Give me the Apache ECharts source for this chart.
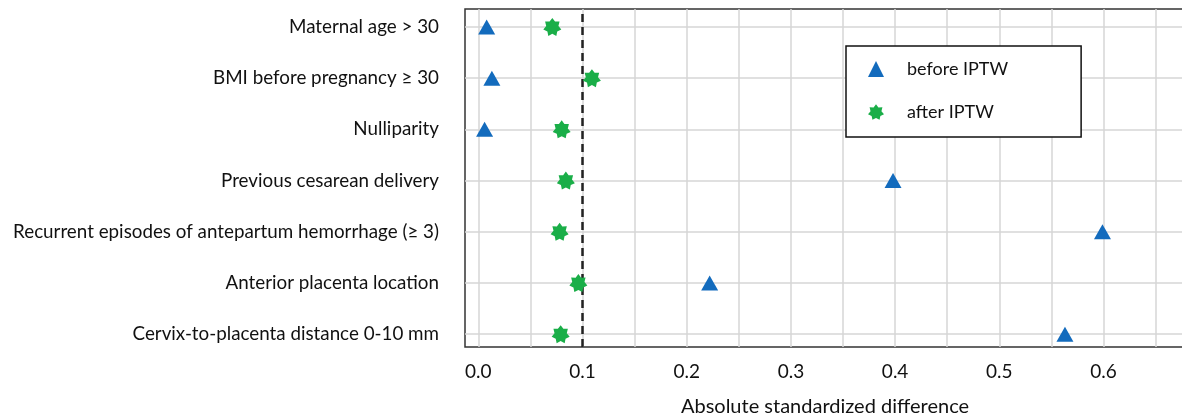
<!DOCTYPE html>
<html>
<head>
<meta charset="utf-8">
<script src="https://cdn.jsdelivr.net/npm/echarts@6/dist/echarts.min.js"></script>
<style>html,body{margin:0;padding:0;background:#fff}#c{width:1182px;height:419px}</style>
</head>
<body>
<div id="c"></div>
<script>
const categories = [
  "Maternal age > 30",
  "BMI before pregnancy \u2265 30",
  "Nulliparity",
  "Previous cesarean delivery",
  "Recurrent episodes of antepartum hemorrhage (\u2265 3)",
  "Anterior placenta location",
  "Cervix-to-placenta distance 0-10 mm"
];
const beforeIPTW = [0.008, 0.013, 0.006, 0.398, 0.599, 0.222, 0.563];
const afterIPTW = [0.071, 0.109, 0.080, 0.084, 0.078, 0.096, 0.079];
const xTickLabels = [0, 0.1, 0.2, 0.3, 0.4, 0.5, 0.6];
const xGridValues = [0, 0.05, 0.1, 0.15, 0.2, 0.25, 0.3, 0.35, 0.4, 0.45, 0.5, 0.55, 0.6, 0.65, 0.7];
const threshold = 0.1;

const n = categories.length;
const rowPos = categories.map((c, i) => n - i);

function starPath(points, inner) {
  let d = "";
  for (let k = 0; k < points * 2; k++) {
    const r = k % 2 === 0 ? 1 : inner;
    const a = -Math.PI / 2 + k * Math.PI / points;
    const px = (50 + 50 * r * Math.cos(a)).toFixed(2);
    const py = (50 + 50 * r * Math.sin(a)).toFixed(2);
    d += (k === 0 ? "M" : "L") + px + " " + py;
  }
  return "path://" + d + "Z";
}
const star = starPath(7, 0.68);

const font = "Lato, 'Open Sans', sans-serif";
const chart = echarts.init(document.getElementById('c'));
chart.setOption({
  animation: false,
  backgroundColor: '#ffffff',
  grid: {left: 465, top: 9, width: 760, height: 338, outerBoundsMode: 'none', containLabel: false,
         show: true, borderColor: '#333333', borderWidth: 1.5, backgroundColor: 'transparent'},
  legend: {
    orient: 'vertical', left: 846, top: 46,
    padding: [14, 73, 16, 22],
    itemWidth: 16, itemHeight: 16, itemGap: 25,
    borderColor: '#111', borderWidth: 1.5,
    backgroundColor: '#fff',
    textStyle: {fontFamily: font, fontSize: 18, color: '#111', padding: [0, 0, 0, 18], lineHeight: 16},
    data: [{name: 'before IPTW', icon: 'triangle'}, {name: 'after IPTW', icon: star}]
  },
  xAxis: {
    type: 'value', min: -0.0128, max: 0.7166,
    name: 'Absolute standardized difference', nameLocation: 'middle', nameGap: 50,
    nameTextStyle: {fontFamily: font, fontSize: 20, color: '#111', padding: [0, 40, 0, 0]},
    axisLine: {show: false},
    axisTick: {show: false, customValues: xGridValues},
    axisLabel: {customValues: xTickLabels, formatter: v => v.toFixed(1), fontFamily: font, fontSize: 19, color: '#111', margin: 15},
    splitLine: {show: true, lineStyle: {color: '#d6d6d6', width: 1.5}}
  },
  yAxis: {
    type: 'value', min: 0.75, max: 7.35,
    axisLine: {show: false},
    axisTick: {show: false, customValues: rowPos},
    axisLabel: {customValues: rowPos, formatter: v => categories[n - Math.round(v)] || '', fontFamily: font, fontSize: 18.8, color: '#111', margin: 26},
    splitLine: {show: true, lineStyle: {color: '#d6d6d6', width: 1.5}}
  },
  series: [
    {
      name: 'before IPTW', type: 'scatter', symbol: 'triangle', symbolSize: [17, 15],
      itemStyle: {color: '#136bbd', opacity: 1},
      data: beforeIPTW.map((v, i) => [v, rowPos[i]]),
      z: 5,
      markLine: {
        silent: true, symbol: 'none', label: {show: false},
        lineStyle: {color: '#222', type: [8, 5], width: 2.5},
        data: [{xAxis: threshold}]
      }
    },
    {
      name: 'after IPTW', type: 'scatter', symbol: star, symbolSize: 18,
      itemStyle: {color: '#1aae48', opacity: 1},
      data: afterIPTW.map((v, i) => [v, rowPos[i]]),
      z: 6
    }
  ]
});
</script>
</body>
</html>
